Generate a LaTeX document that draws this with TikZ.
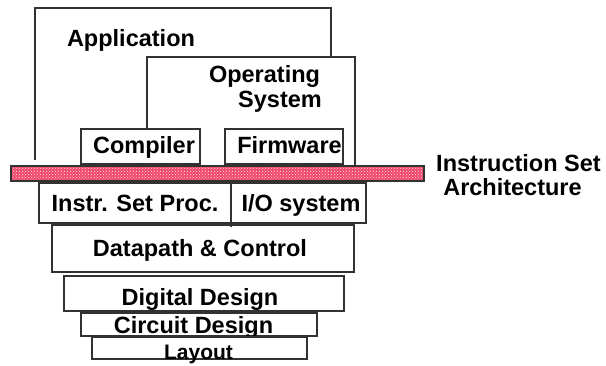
\documentclass[tikz,border=0pt]{standalone}
\usepackage{fontspec}
\setmainfont{Liberation Sans}
\usetikzlibrary{patterns}
\definecolor{lineg}{RGB}{50,50,50}
\definecolor{barred}{RGB}{240,70,105}
\begin{document}
\begin{tikzpicture}[x=1pt,y=-1pt,
  box/.style={draw=lineg,line width=1.1pt},
  lbl/.style={anchor=base,inner sep=0pt,font=\fontsize{23.5}{25}\selectfont\bfseries},
  slbl/.style={anchor=base,inner sep=0pt,font=\fontsize{21}{23}\selectfont\bfseries}]
\useasboundingbox (0,0) rectangle (606,365);
% Application and OS outlines
\draw[box] (35,160) -- (35,8) -- (331,8) -- (331,57);
\draw[box] (147,129) -- (147,57) -- (355,57) -- (355,166);
\node[lbl] (app) at (131,46) {Application};
\node[lbl] (os1) at (264.5,82) {Operating};
\node[lbl] (os2) at (280,107) {System};
% compiler / firmware
\draw[box,fill=white] (81,129) rectangle (200,164);
\draw[box,fill=white] (225,129) rectangle (343,164);
\node[lbl] (comp) at (144,153) {Compiler};
\node[lbl] (firm) at (289.5,153) {Firmware};
% ISA bar
\fill[barred] (11,166) rectangle (424,181);
\fill[pattern=crosshatch dots,pattern color=white!85!barred] (11,166) rectangle (424,181);
\draw[draw=lineg,line width=1.1pt] (11,166) rectangle (424,181);
\node[lbl] (isa1) at (518.5,171.5) {Instruction Set};
\node[lbl] (isa2) at (512.5,195) {Architecture};
% lower levels
\draw[box] (39,183) rectangle (366,223);
\draw[box] (231,183) -- (231,227);
\node[lbl] (isp) at (135,211.5) {Instr. Set Proc.};
\node[lbl] (io) at (301,211.5) {I/O system};
\draw[box] (52,225) rectangle (354,272);
\node[lbl] (dp) at (200,256.5) {Datapath \& Control};
\draw[box] (64,276) rectangle (344,311);
\node[lbl] (dd) at (200,305) {Digital Design};
\draw[box] (81,313) rectangle (317,336);
\node[lbl] (cd) at (193.5,333) {Circuit Design};
\draw[box] (92,337) rectangle (307,359);
\node[slbl] (lay) at (198.5,359) {Layout};
\end{tikzpicture}
\end{document}
